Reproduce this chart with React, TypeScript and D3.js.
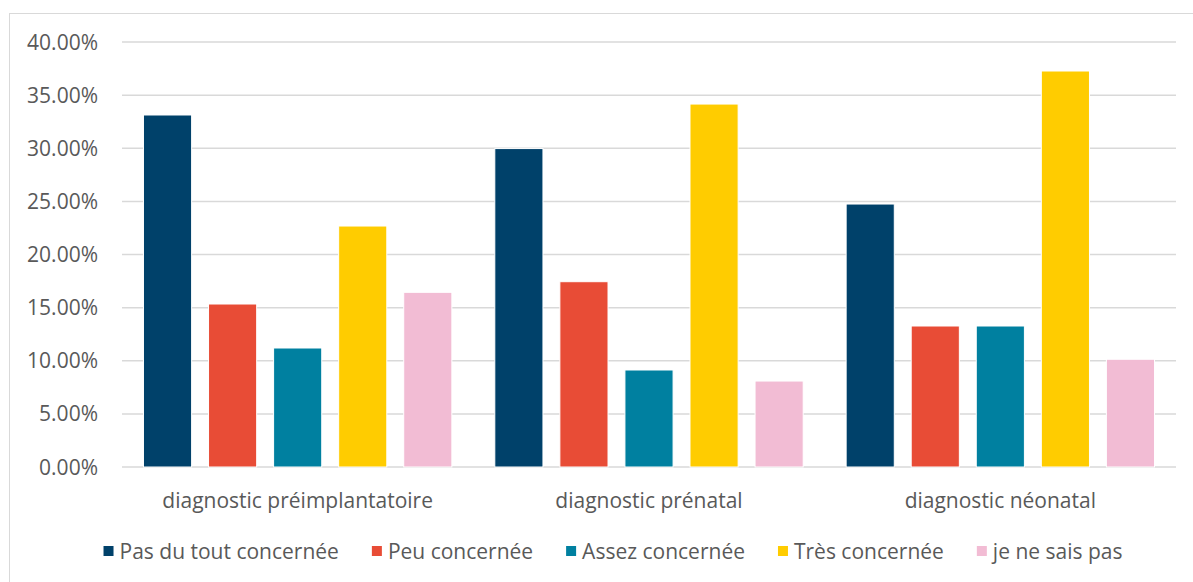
import React, { useEffect, useRef } from 'react';
import * as d3 from 'd3';

const categories = ['diagnostic préimplantatoire', 'diagnostic prénatal', 'diagnostic néonatal'];
const seriesNames = ['Pas du tout concernée', 'Peu concernée', 'Assez concernée', 'Très concernée', 'je ne sais pas'];
const seriesColors = ['#00416A', '#E84C36', '#0080A0', '#FFCC00', '#F2BCD4'];

// one array per series, values in the order of categories
const pasDuTout = [0.3313, 0.2997, 0.2475];
const peu = [0.1534, 0.1744, 0.1327];
const assez = [0.112, 0.0913, 0.1327];
const tres = [0.2268, 0.3416, 0.3727];
const neSaisPas = [0.1644, 0.0809, 0.1014];

const seriesValues = [pasDuTout, peu, assez, tres, neSaisPas];
const yTicks = [0, 0.05, 0.1, 0.15, 0.2, 0.25, 0.3, 0.35, 0.4];

const FONT = '"Open Sans", "Noto Sans", sans-serif';
const TEXT_COLOR = '#595959';

const App: React.FC = () => {
  const svgRef = useRef<SVGSVGElement>(null);

  useEffect(() => {
    if (!svgRef.current) return;
    const width = 1193;
    const height = 582;
    const svg = d3.select(svgRef.current);
    svg.selectAll('*').remove();

    const margin = { left: 122, right: 17, top: 42, bottom: 115 };

    // chart frame
    svg.append('rect')
      .attr('x', 9.5)
      .attr('y', 13.5)
      .attr('width', width - 9)
      .attr('height', height)
      .attr('fill', 'white')
      .attr('stroke', '#d9d9d9')
      .attr('stroke-width', 1);

    const x0 = d3.scaleBand<string>()
      .domain(categories)
      .range([margin.left, width - margin.right])
      .paddingInner(0)
      .paddingOuter(0);

    const x1 = d3.scaleBand<number>()
      .domain(d3.range(seriesNames.length))
      .range([0, x0.bandwidth()])
      .paddingInner(0.26)
      .paddingOuter(0.33);

    const y = d3.scaleLinear()
      .domain([0, 0.4])
      .range([height - margin.bottom, margin.top]);

    // gridlines
    svg.append('g')
      .selectAll('line')
      .data(yTicks)
      .enter()
      .append('line')
      .attr('x1', margin.left)
      .attr('x2', width - margin.right)
      .attr('y1', d => y(d))
      .attr('y2', d => y(d))
      .attr('stroke', '#d9d9d9')
      .attr('stroke-width', 1.5);

    // y tick labels
    svg.append('g')
      .selectAll('text')
      .data(yTicks)
      .enter()
      .append('text')
      .attr('x', 98)
      .attr('y', d => y(d))
      .attr('dy', '0.36em')
      .attr('text-anchor', 'end')
      .attr('font-family', FONT)
      .attr('font-size', 21)
      .attr('fill', TEXT_COLOR)
      .text(d => d3.format('.2%')(d));

    // bars
    const groups = svg.append('g')
      .selectAll('g')
      .data(categories)
      .enter()
      .append('g')
      .attr('transform', d => `translate(${x0(d)},0)`);

    groups.selectAll('rect')
      .data((_, ci) => seriesValues.map((vals, si) => ({ si, v: vals[ci] })))
      .enter()
      .append('rect')
      .attr('x', d => x1(d.si)!)
      .attr('width', x1.bandwidth())
      .attr('y', d => y(d.v))
      .attr('height', d => y(0) - y(d.v))
      .attr('fill', d => seriesColors[d.si])
      .attr('stroke', 'white')
      .attr('stroke-width', 1);

    // category labels
    svg.append('g')
      .selectAll('text')
      .data(categories)
      .enter()
      .append('text')
      .attr('x', d => x0(d)! + x0.bandwidth() / 2)
      .attr('y', 500)
      .attr('dy', '0.36em')
      .attr('text-anchor', 'middle')
      .attr('font-family', FONT)
      .attr('font-size', 21)
      .attr('fill', TEXT_COLOR)
      .text(d => d);

    // legend
    const legend = svg.append('g');
    const items = legend.selectAll('g')
      .data(seriesNames)
      .enter()
      .append('g');
    items.append('rect')
      .attr('width', 10)
      .attr('height', 10)
      .attr('y', -5)
      .attr('fill', (_, i) => seriesColors[i]);
    items.append('text')
      .attr('x', 16)
      .attr('dy', '0.36em')
      .attr('font-family', FONT)
      .attr('font-size', 21)
      .attr('fill', TEXT_COLOR)
      .text(d => d);

    const gap = 33;
    let cursor = 0;
    const offsets: number[] = [];
    items.each(function () {
      offsets.push(cursor);
      const t = d3.select(this).select<SVGTextElement>('text').node()!;
      cursor += 16 + t.getComputedTextLength() + gap;
    });
    const total = cursor - gap;
    const start = 613 - total / 2;
    items.attr('transform', (_, i) => `translate(${start + offsets[i]},551)`);
  }, []);

  return (
    <svg
      ref={svgRef}
      width={1193}
      height={582}
      style={{ position: 'absolute', left: 0, top: 0, background: 'white' }}
    />
  );
};

export default App;
